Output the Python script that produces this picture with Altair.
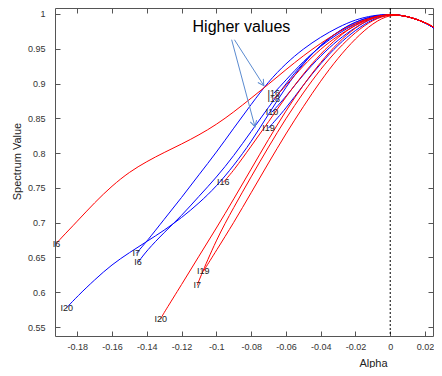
import altair as alt
import pandas as pd

# ---------------- data ----------------
GRID = [-0.14, -0.13, -0.12, -0.11, -0.10, -0.09, -0.08, -0.07, -0.06, -0.05,
        -0.04, -0.03, -0.02, -0.01, 0.0, 0.01, 0.02, 0.025]

R_I6_X = [-0.192, -0.19, -0.18, -0.17, -0.16, -0.15] + GRID
R_I6_Y = [0.670, 0.676, 0.702, 0.729, 0.753, 0.773, 0.788, 0.801, 0.813, 0.826, 0.841,
          0.859, 0.879, 0.899, 0.920, 0.940, 0.958, 0.974, 0.987, 0.996, 1.0, 0.997, 0.988, 0.981]

B_I20_X = [-0.186, -0.18, -0.17, -0.16, -0.15] + GRID
B_I20_Y = [0.578, 0.594, 0.618, 0.640, 0.657, 0.673, 0.689, 0.707, 0.728, 0.752, 0.782,
           0.816, 0.856, 0.895, 0.929, 0.956, 0.975, 0.989, 0.997, 1.0, 0.997, 0.988, 0.980]

B_I7_X = [-0.146] + GRID
B_I7_Y = [0.656, 0.673, 0.705, 0.736, 0.769, 0.801, 0.836, 0.870, 0.903, 0.929, 0.950,
          0.967, 0.981, 0.992, 0.998, 1.0, 0.997, 0.988, 0.980]

B_I6_X = [-0.145] + GRID
B_I6_Y = [0.643, 0.660, 0.686, 0.710, 0.738, 0.765, 0.796, 0.831, 0.866, 0.900, 0.930,
          0.955, 0.975, 0.989, 0.997, 1.0, 0.997, 0.988, 0.980]

R_I20_X = [-0.132] + GRID[1:]
R_I20_Y = [0.562, 0.571, 0.611, 0.652, 0.692, 0.734, 0.777, 0.820, 0.861, 0.898, 0.931,
           0.959, 0.981, 0.995, 1.0, 0.997, 0.988, 0.981]

R_I7_X = [-0.111] + GRID[3:]
R_I7_Y = [0.610, 0.617, 0.676, 0.722, 0.766, 0.809, 0.850, 0.887, 0.921, 0.950, 0.974,
          0.992, 1.0, 0.997, 0.988, 0.981]

R_I19_X = [-0.1075] + GRID[4:]
R_I19_Y = [0.630, 0.660, 0.700, 0.743, 0.786, 0.828, 0.867, 0.904, 0.937, 0.965, 0.987,
           1.0, 0.997, 0.988, 0.981]

R_I16_X = [-0.096] + GRID[5:]
R_I16_Y = [0.758, 0.775, 0.810, 0.845, 0.881, 0.914, 0.943, 0.967, 0.985, 0.996, 1.0,
           0.997, 0.988, 0.981]

TOP_X = [-0.06, -0.05, -0.04, -0.03, -0.02, -0.01, 0.0, 0.01, 0.02, 0.025]
R_I18_X = [-0.067] + TOP_X
R_I18_Y = [0.878, 0.897, 0.926, 0.950, 0.969, 0.984, 0.995, 1.0, 0.997, 0.988, 0.981]
B_I16_X = [-0.067] + TOP_X
B_I16_Y = [0.886, 0.905, 0.932, 0.954, 0.972, 0.986, 0.996, 1.0, 0.997, 0.988, 0.980]
B_I10_X = [-0.068] + TOP_X
B_I10_Y = [0.859, 0.881, 0.913, 0.940, 0.963, 0.981, 0.995, 1.0, 0.997, 0.988, 0.980]
B_I19_X = [-0.070] + TOP_X
B_I19_Y = [0.836, 0.864, 0.898, 0.929, 0.956, 0.977, 0.993, 1.0, 0.997, 0.988, 0.980]

SERIES = [
    ("I20", "blue", B_I20_X, B_I20_Y),
    ("I7", "blue", B_I7_X, B_I7_Y),
    ("I6", "blue", B_I6_X, B_I6_Y),
    ("I16", "blue", B_I16_X, B_I16_Y),
    ("I10", "blue", B_I10_X, B_I10_Y),
    ("I19", "blue", B_I19_X, B_I19_Y),
    ("I6", "red", R_I6_X, R_I6_Y),
    ("I20", "red", R_I20_X, R_I20_Y),
    ("I7", "red", R_I7_X, R_I7_Y),
    ("I19", "red", R_I19_X, R_I19_Y),
    ("I16", "red", R_I16_X, R_I16_Y),
    ("I18", "red", R_I18_X, R_I18_Y),
]

X_TICKS = [-0.18, -0.16, -0.14, -0.12, -0.1, -0.08, -0.06, -0.04, -0.02, 0, 0.02]
Y_TICKS = [0.55, 0.6, 0.65, 0.7, 0.75, 0.8, 0.85, 0.9, 0.95, 1]

NOTE_TEXT = ["Higher values"]
NOTE_X = [-0.1137]
NOTE_Y = [0.974]

ARROW_X0 = [-0.0896, -0.0912]
ARROW_Y0 = [0.963, 0.963]
ARROW_X1 = [-0.0727, -0.0778]
ARROW_Y1 = [0.897, 0.838]
ARROW_ANGLE = [147, 165]

# ---------------- build tables ----------------
rows = []
for lab, grp, xs, ys in SERIES:
    for j, (a, v) in enumerate(zip(xs, ys)):
        rows.append({"sid": grp + "_" + lab, "label": lab, "group": grp,
                     "alpha": a, "value": v, "order": j})
df = pd.DataFrame(rows)
lab_df = df[df["order"] == 0]
note_df = pd.DataFrame({"text": NOTE_TEXT, "x": NOTE_X, "y": NOTE_Y})
arrow_df = pd.DataFrame({"x0": ARROW_X0, "y0": ARROW_Y0, "x1": ARROW_X1,
                         "y1": ARROW_Y1, "angle": ARROW_ANGLE})

FONT = "Liberation Sans"
xscale = alt.Scale(domain=[-0.1928, 0.0246], nice=False, zero=False)
yscale = alt.Scale(domain=[0.5371, 1.0086], nice=False, zero=False)
LABEL_EXPR = "'' + datum.value"


def X(field, axis=None):
    return alt.X(field, type="quantitative", scale=xscale, axis=axis)


def Y(field, axis=None):
    return alt.Y(field, type="quantitative", scale=yscale, axis=axis)


x_bottom = alt.Axis(orient="bottom", values=X_TICKS, labelExpr=LABEL_EXPR, grid=False,
                    domain=False, tickSize=5, offset=-5, tickColor="#555",
                    labelFontSize=9, labelColor="#333", labelFont=FONT, labelPadding=6,
                    labelFlush=False, title="Alpha", titleFont=FONT, titleFontSize=11,
                    titleFontWeight="normal", titleColor="#222", titleX=318, titleY=32,
                    titleAlign="center", titleBaseline="middle")
y_left = alt.Axis(orient="left", values=Y_TICKS, labelExpr=LABEL_EXPR, grid=False,
                  domain=False, tickSize=5, offset=-5, tickColor="#555",
                  labelFontSize=9, labelColor="#333", labelFont=FONT, labelPadding=10,
                  labelFlush=False, title="Spectrum Value", titleFont=FONT,
                  titleFontSize=11, titleFontWeight="normal", titleColor="#222",
                  titleX=-43, titleY=153, titleAlign="center", titleBaseline="middle",
                  titleAngle=270)
x_top = alt.Axis(orient="top", values=X_TICKS, labels=False, grid=False, domain=False,
                 tickSize=5, offset=-5, tickColor="#555", title=None)
y_right = alt.Axis(orient="right", values=Y_TICKS, labels=False, grid=False, domain=False,
                   tickSize=5, offset=-5, tickColor="#555", title=None)

blue = alt.Chart(df[df["group"] == "blue"]).mark_line(
    color="#0000ff", strokeWidth=1, interpolate="basis").encode(
    x=X("alpha", x_bottom), y=Y("value", y_left), detail="sid:N", order="order:Q")

red = alt.Chart(df[df["group"] == "red"]).mark_line(
    color="#ff0000", strokeWidth=1, interpolate="basis").encode(
    x=X("alpha"), y=Y("value"), detail="sid:N", order="order:Q")

frame_axes = alt.Chart(df).mark_point(opacity=0).encode(
    x=X("alpha", x_top), y=Y("value", y_right))

zero_rule = alt.Chart(pd.DataFrame({"a": [0.0]})).mark_rule(
    color="black", strokeWidth=1, strokeDash=[2, 2]).encode(x=X("a"))

labels = alt.Chart(lab_df).mark_text(
    font=FONT, fontSize=9, color="#222", align="center", baseline="middle").encode(
    x=X("alpha"), y=Y("value"), text="label:N")

note = alt.Chart(note_df).mark_text(
    font=FONT, fontSize=16, color="black", align="left", baseline="alphabetic").encode(
    x=X("x"), y=Y("y"), text="text:N")

arrow_lines = alt.Chart(arrow_df).mark_rule(color="#5b8bd0", strokeWidth=1).encode(
    x=X("x0"), y=Y("y0"), x2="x1", y2="y1")

arrow_heads = alt.Chart(arrow_df).mark_point(
    shape="M -0.55 1 L 0 0 L 0.55 1", filled=False, color="#5b8bd0", size=140,
    strokeWidth=1, opacity=1).encode(
    x=X("x1"), y=Y("y1"), angle=alt.Angle("angle:Q", scale=None))

chart = alt.layer(
    frame_axes, zero_rule, blue, red, labels, arrow_lines, arrow_heads, note
).resolve_axis(x="independent", y="independent").properties(
    width=378, height=328,
    autosize=alt.AutoSizeParams(type="none"),
    padding={"left": 47, "top": 0, "right": 1, "bottom": 32},
).configure_view(stroke="#555", strokeWidth=1)

chart.save("out.html", embed_options={"renderer": "svg", "actions": False})
